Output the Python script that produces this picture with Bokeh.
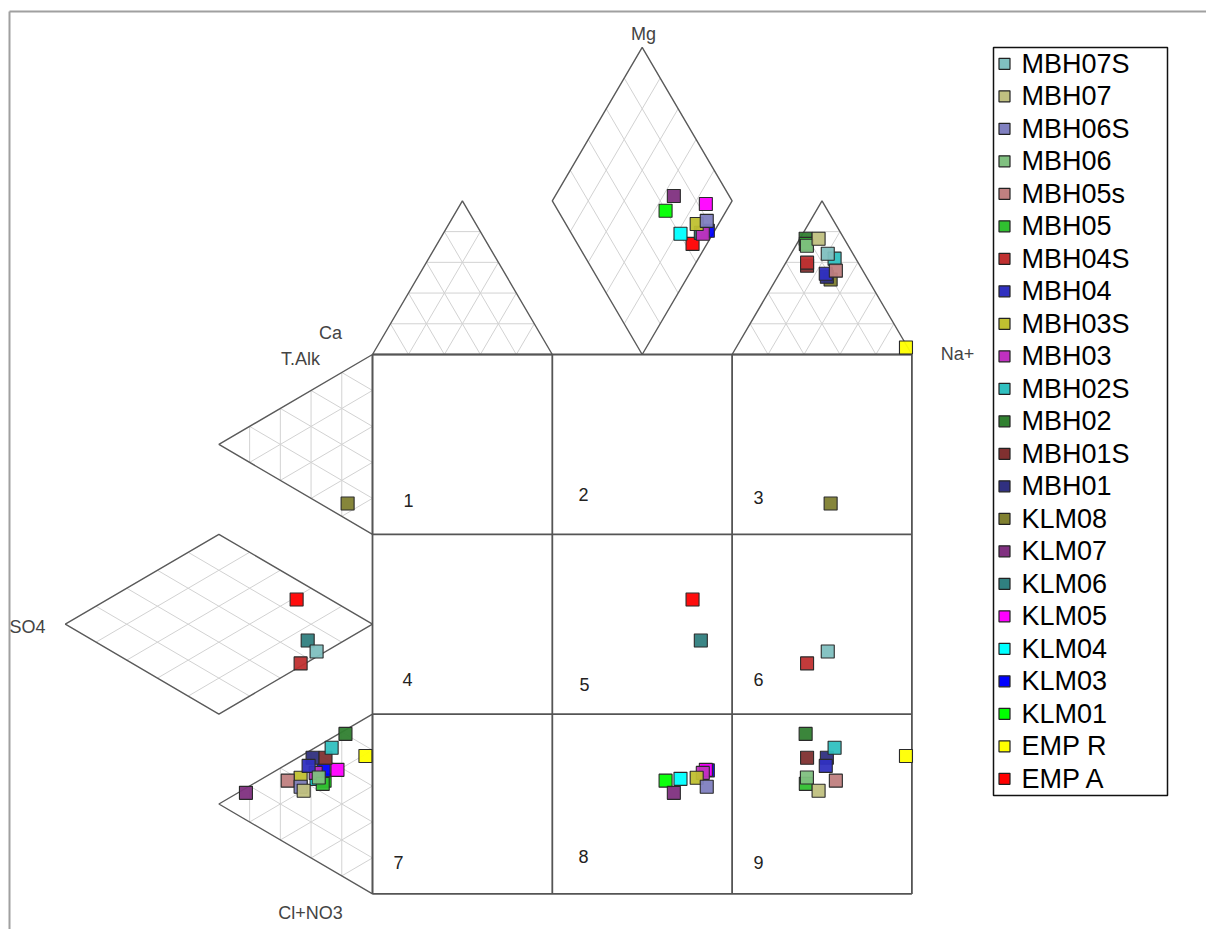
import numpy as np
from bokeh.plotting import figure
from bokeh.models import Range1d, ColumnDataSource, Label
from bokeh.core.properties import value
from bokeh.embed import file_html
from bokeh.resources import INLINE

# Sample identifiers, in legend order
samples = ["MBH07S", "MBH07", "MBH06S", "MBH06", "MBH05s", "MBH05", "MBH04S",
           "MBH04", "MBH03S", "MBH03", "MBH02S", "MBH02", "MBH01S", "MBH01",
           "KLM08", "KLM07", "KLM06", "KLM05", "KLM04", "KLM03", "KLM01",
           "EMP R", "EMP A"]
sample_colors = ["#80c0c0", "#c0c080", "#8080c0", "#80c080", "#c08080", "#30c030",
                 "#c03030", "#3030c0", "#c0c030", "#c030c0", "#30c0c0", "#308030",
                 "#803030", "#303080", "#808030", "#803080", "#308080", "#ff00ff",
                 "#00ffff", "#0000ff", "#00ff00", "#ffff00", "#ff0000"]

# Cations, % meq/l
ca = [7.0, 7.1, 10.3, 11.5, 7.5, 11.5, 14.2, 10.8, 13.6, 13.5, 5.9, 10.7,
      14.7, 11.0, 10.4, 15.4, 13.9, 7.8, 19.7, 11.6, 20.1, 0.5, 18.0]
mg = [32.8, 37.7, 43.5, 35.4, 27.3, 36.0, 29.9, 26.3, 42.5, 39.3, 31.2, 37.7,
      28.9, 25.3, 24.4, 51.6, 39.6, 49.0, 39.3, 40.3, 46.8, 2.3, 36.0]
na = [60.2, 55.2, 46.2, 53.1, 65.2, 52.5, 55.9, 62.9, 43.9, 47.2, 62.9, 51.6,
      56.4, 63.7, 65.2, 33.0, 46.5, 43.2, 41.0, 48.1, 33.1, 97.2, 46.0]

# Anions, % meq/l
talk = [33.3, 17.5, 18.1, 23.6, 17.7, 22.5, 27.4, 25.2, 20.6, 24.4, 34.0, 40.1,
        30.2, 28.1, 54.5, 7.5, 34.9, 28.8, 22.9, 26.4, 23.7, 37.2, 44.5]
so4 = [18.2, 22.4, 23.4, 17.5, 27.6, 16.2, 23.4, 20.8, 23.4, 18.5, 13.3, 8.8,
       15.3, 19.5, 8.1, 41.2, 21.1, 11.4, 18.2, 15.9, 15.6, 2.3, 24.7]
cl = [48.5, 60.1, 58.5, 58.9, 54.7, 61.3, 49.2, 54.0, 56.0, 57.1, 52.7, 51.1,
      54.5, 52.4, 37.4, 51.3, 44.0, 59.8, 58.9, 57.7, 60.7, 60.5, 30.8]

# Layout of the expanded Durov diagram (screen units, y grows downward)
X0, Y0 = 372.0, 354.0   # top-left corner of the central square
CELL = 179.8            # side of one of the nine fields
TRI_H = 153.6           # height of one sub-triangle


def cation_pos(ca, mg, na):
    ca, mg, na = (np.asarray(a, float) for a in (ca, mg, na))
    tot = ca + mg + na
    ca, mg, na = ca / tot * 100, mg / tot * 100, na / tot * 100
    x = X0 + CELL / 2 + (na + mg / 2) / 100 * 2 * CELL
    x = x - np.where(ca >= 50, CELL / 2, 0) + np.where(na >= 50, CELL / 2, 0)
    y = Y0 - mg / 100 * 2 * TRI_H
    return x, y


def anion_pos(talk, so4, cl):
    talk, so4, cl = (np.asarray(a, float) for a in (talk, so4, cl))
    tot = talk + so4 + cl
    talk, so4, cl = talk / tot * 100, so4 / tot * 100, cl / tot * 100
    x = X0 - so4 / 100 * 2 * TRI_H
    y = Y0 + CELL / 2 + (cl + so4 / 2) / 100 * 2 * CELL
    y = y - np.where(talk >= 50, CELL / 2, 0) + np.where(cl >= 50, CELL / 2, 0)
    return x, y


def tri_grid(P, Q, R, n=5):
    v = [np.array(P, float), np.array(Q, float), np.array(R, float)]
    xs, ys = [], []
    for i in range(3):
        A, B, C = v[i], v[(i + 1) % 3], v[(i + 2) % 3]
        for k in range(1, n):
            t = k / n
            a = A + t * (B - A)
            b = A + t * (C - A)
            xs.append([a[0], b[0]])
            ys.append([a[1], b[1]])
    return xs, ys


def rhombus_grid(B, L, R, n=5):
    B, L, R = (np.array(p, float) for p in (B, L, R))
    xs, ys = [], []
    for k in range(1, n):
        t = k / n
        a = B + t * (R - B)
        b = a + (L - B)
        xs.append([a[0], b[0]])
        ys.append([a[1], b[1]])
        a = B + t * (L - B)
        b = a + (R - B)
        xs.append([a[0], b[0]])
        ys.append([a[1], b[1]])
    return xs, ys


p = figure(width=1206, height=929, x_range=Range1d(0, 1206), y_range=Range1d(929, 0),
           output_backend="svg", toolbar_location=None, min_border=0,
           x_axis_location=None, y_axis_location=None)
p.grid.visible = False
p.outline_line_color = None
p.background_fill_color = "white"
p.border_fill_color = "white"

# page frame
p.line([9, 9], [929, 11], line_color="#a0a0a0", line_width=2)
p.line([9, 1206], [11, 11], line_color="#a0a0a0", line_width=2)

# sub-triangles and diamonds
tri_tl = [(X0, Y0), (X0 + CELL, Y0), (X0 + CELL / 2, Y0 - TRI_H)]
tri_tr = [(X0 + 2 * CELL, Y0), (X0 + 3 * CELL, Y0), (X0 + 2.5 * CELL, Y0 - TRI_H)]
dia_top = ((X0 + 1.5 * CELL, Y0), (X0 + CELL, Y0 - TRI_H), (X0 + 2 * CELL, Y0 - TRI_H))
tri_lt = [(X0, Y0), (X0, Y0 + CELL), (X0 - TRI_H, Y0 + CELL / 2)]
tri_lb = [(X0, Y0 + 2 * CELL), (X0, Y0 + 3 * CELL), (X0 - TRI_H, Y0 + 2.5 * CELL)]
dia_left = ((X0, Y0 + 1.5 * CELL), (X0 - TRI_H, Y0 + CELL), (X0 - TRI_H, Y0 + 2 * CELL))

gx, gy = [], []
for tri in (tri_tl, tri_tr, tri_lt, tri_lb):
    a, b = tri_grid(*tri)
    gx += a
    gy += b
for dia in (dia_top, dia_left):
    a, b = rhombus_grid(*dia)
    gx += a
    gy += b
p.multi_line(gx, gy, line_color="#d2d2d2", line_width=1)

outline_x, outline_y = [], []
for tri in (tri_tl, tri_tr, tri_lt, tri_lb):
    outline_x.append([q[0] for q in tri] + [tri[0][0]])
    outline_y.append([q[1] for q in tri] + [tri[0][1]])
for B, L, R in (dia_top, dia_left):
    T = (L[0] + R[0] - B[0], L[1] + R[1] - B[1])
    outline_x.append([B[0], L[0], T[0], R[0], B[0]])
    outline_y.append([B[1], L[1], T[1], R[1], B[1]])
p.multi_line(outline_x, outline_y, line_color="#5a5a5a", line_width=1.4)

# central square with its nine fields
sq_x, sq_y = [], []
for k in range(4):
    sq_x.append([X0 + k * CELL, X0 + k * CELL])
    sq_y.append([Y0, Y0 + 3 * CELL])
    sq_x.append([X0, X0 + 3 * CELL])
    sq_y.append([Y0 + k * CELL, Y0 + k * CELL])
p.multi_line(sq_x, sq_y, line_color="#555555", line_width=1.8)

# field numbers
field_pos = [(408, 500), (583, 494), (758, 497),
             (407, 679), (584, 684), (758, 679),
             (398, 862), (583, 856), (758, 862)]
for i, (fx, fy) in enumerate(field_pos):
    p.add_layout(Label(x=fx, y=fy, text=str(i + 1), text_align="center",
                       text_baseline="middle", text_font_size="18px",
                       text_font="Liberation Sans", text_color="#222222"))

# corner labels
for txt, lx, ly in (("Mg", 643, 33), ("Ca", 330, 332), ("T.Alk", 300, 358),
                    ("Na+", 957, 353), ("SO4", 27, 626), ("Cl+NO3", 310, 912)):
    p.add_layout(Label(x=lx, y=ly, text=txt, text_align="center",
                       text_baseline="middle", text_font_size="18px",
                       text_font="Liberation Sans", text_color="#444444"))

# sample points: cation field, anion field and central square
cx, cy = cation_pos(ca, mg, na)
ax, ay = anion_pos(talk, so4, cl)
order = list(range(len(samples)))[::-1]
px = np.concatenate([cx[order], ax[order], cx[order]])
py = np.concatenate([cy[order], ay[order], ay[order]])
pc = [sample_colors[i] for i in order] * 3
src = ColumnDataSource(dict(x=px, y=py, c=pc))
p.scatter("x", "y", source=src, marker="square", size=13, fill_color="c",
          fill_alpha=0.95, line_color="#2a2a2a", line_width=1.1)

# legend
LX0, LX1, LY0, LY1 = 993, 1167, 47, 795
p.quad(left=[LX0], right=[LX1], top=[LY0], bottom=[LY1], fill_color="white",
       line_color="#111111", line_width=1.5)
ly = 63.3 + 32.5 * np.arange(len(samples))
leg = ColumnDataSource(dict(x=np.full(len(samples), 1004.0), tx=np.full(len(samples), 1021.0),
                            y=ly, name=samples, c=sample_colors))
p.scatter("x", "y", source=leg, marker="square", size=11, fill_color="c",
          line_color="#222222", line_width=1.2)
p.text("tx", "y", text="name", source=leg, text_font=value("Liberation Sans"),
       text_font_size="27px", text_baseline="middle", text_color="#000000")

open("out.html", "w").write(file_html(p, INLINE))
